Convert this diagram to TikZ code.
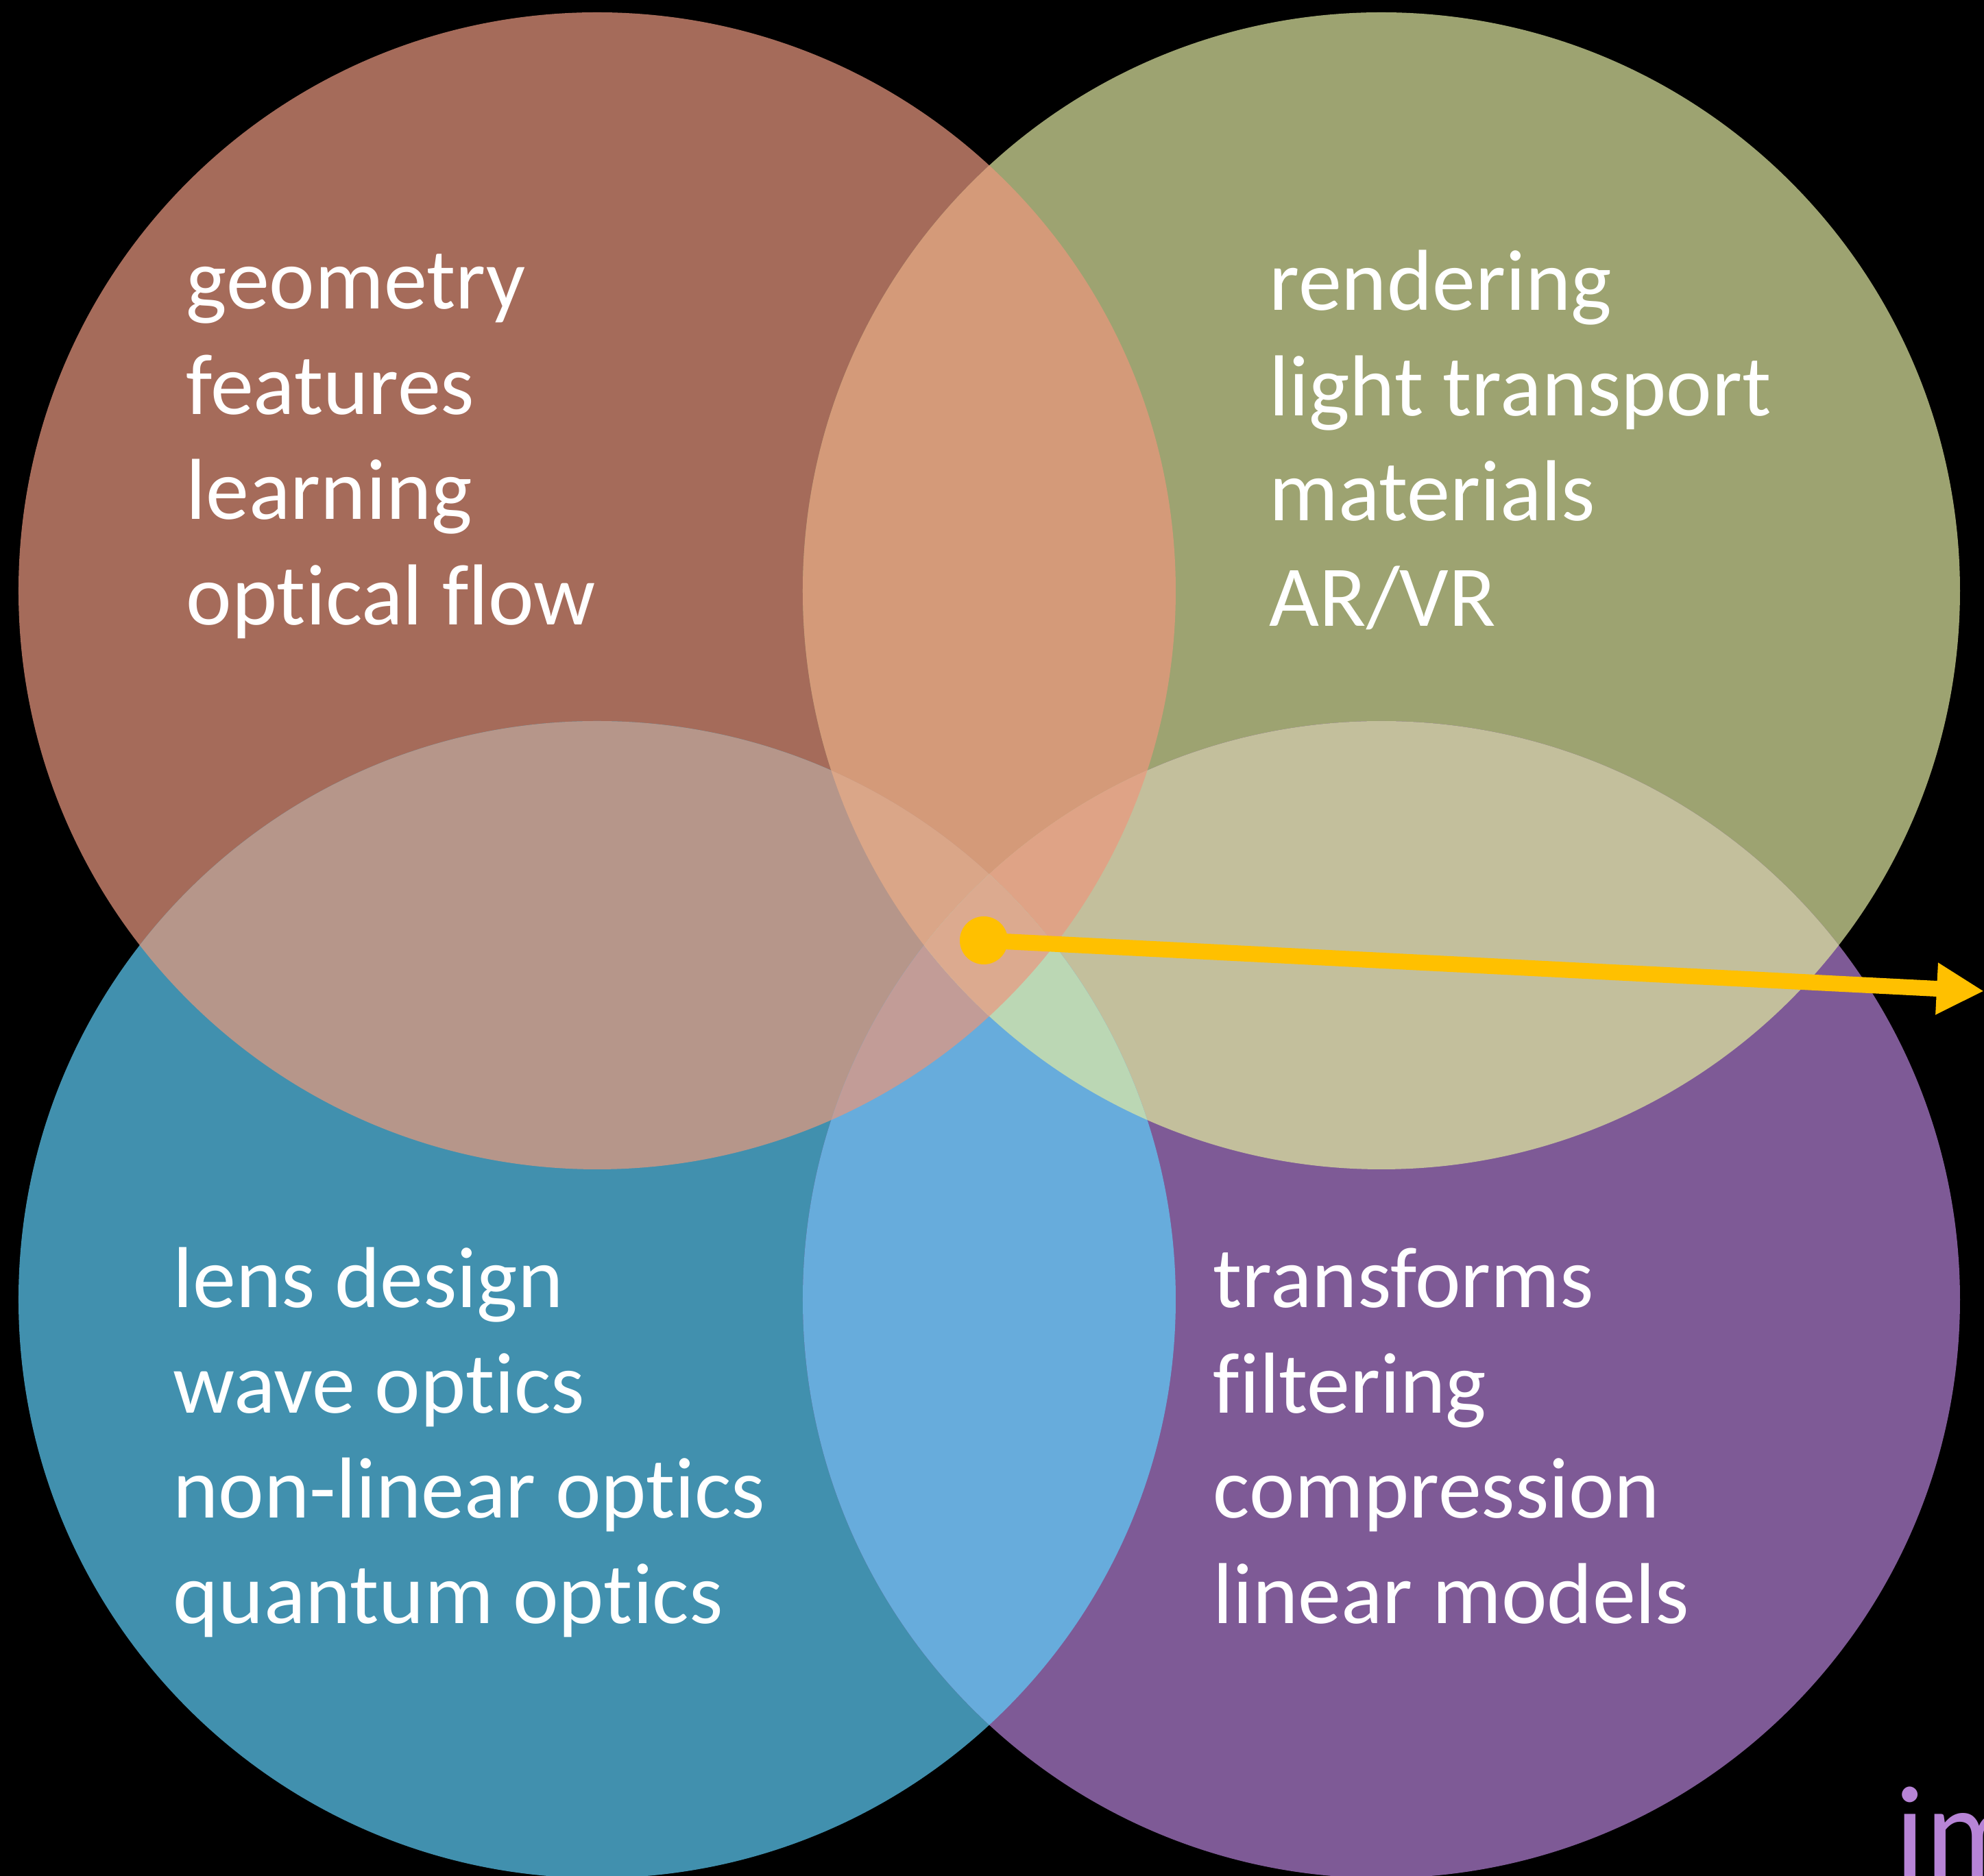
\documentclass[tikz,border=0pt]{standalone}
\usepackage{fontspec}
\setmainfont{Carlito}[Ligatures=NoCommon]
\usetikzlibrary{arrows.meta}
% colours of the four fields and of their overlaps
\definecolor{visioncol}{HTML}{A56B5A}
\definecolor{graphicscol}{HTML}{9DA371}
\definecolor{opticscol}{HTML}{4190AE}
\definecolor{signalcol}{HTML}{7E5A96}
\definecolor{visgracol}{HTML}{D49A79}
\definecolor{visoptcol}{HTML}{B6968A}
\definecolor{grasigcol}{HTML}{C3BF9C}
\definecolor{optsigcol}{HTML}{67ACDC}
\definecolor{visgraoptcol}{HTML}{DAA688}
\definecolor{visgrasigcol}{HTML}{DFA386}
\definecolor{visoptsigcol}{HTML}{C29C97}
\definecolor{graoptsigcol}{HTML}{BBD7B4}
\definecolor{allcol}{HTML}{DCAA8F}
\definecolor{pointercol}{HTML}{FFC000}
\definecolor{logocol}{HTML}{B784D6}
\tikzset{
  fieldlist/.style={anchor=base west, inner sep=0pt, align=left, text=white,
    font=\fontsize{35.9}{43.7}\selectfont},
}
\begin{document}
\begin{tikzpicture}[line join=round]
\def\rr{8.44}
% background, fixes the page
\fill[black] (-14.43,-13.58) rectangle (14.51,13.79);
\useasboundingbox (-14.43,-13.58) rectangle (14.51,13.79);
\clip (-14.43,-13.58) rectangle (14.51,13.79);
% circle centres
\coordinate (TL) at (-5.72,5.17);
\coordinate (TR) at (5.72,5.17);
\coordinate (BL) at (-5.72,-5.17);
\coordinate (BR) at (5.72,-5.17);
% the four circles
\foreach \c/\col in {TL/visioncol, TR/graphicscol, BL/opticscol, BR/signalcol}
  \fill[\col] (\c) circle (\rr);
% overlaps of two
\foreach \a/\b/\col in {TL/TR/visgracol, TL/BL/visoptcol, TR/BR/grasigcol, BL/BR/optsigcol}{
  \begin{scope}
    \clip (\a) circle (\rr);
    \fill[\col] (\b) circle (\rr);
  \end{scope}}
% overlaps of three
\foreach \a/\b/\c/\col in {TL/TR/BL/visgraoptcol, TL/TR/BR/visgrasigcol,
    TL/BL/BR/visoptsigcol, TR/BL/BR/graoptsigcol}{
  \begin{scope}
    \clip (\a) circle (\rr);
    \clip (\b) circle (\rr);
    \fill[\col] (\c) circle (\rr);
  \end{scope}}
% middle
\begin{scope}
  \clip (TL) circle (\rr);
  \clip (TR) circle (\rr);
  \clip (BL) circle (\rr);
  \fill[allcol] (BR) circle (\rr);
\end{scope}
% texts (base = last line)
\node[fieldlist] (vision) at (-11.72,4.675) {geometry\\features\\learning\\optical flow};
\node[fieldlist] (graphics) at (4.08,4.655) {rendering\\light transport\\materials\\AR/VR};
\node[fieldlist] (optics) at (-11.91,-9.895) {lens design\\wave optics\\non-linear optics\\quantum optics};
\node[fieldlist] (signal) at (3.26,-9.895) {transforms\\filtering\\compression\\linear models};
% pointer
\node[circle, fill=pointercol, minimum size=0.7cm, inner sep=0pt] (dot) at (-0.08,0.07) {};
\coordinate (tip) at (14.51,-0.67);
\draw[pointercol, line width=0.23cm, -{Triangle[length=0.69cm,width=0.71cm]}] (dot.center) -- (tip);
% cut-off word
\node[anchor=base west, inner sep=0pt, text=logocol, font=\fontsize{54}{60}\selectfont] (logo) at (13.21,-13.59) {im};
\end{tikzpicture}
\end{document}
